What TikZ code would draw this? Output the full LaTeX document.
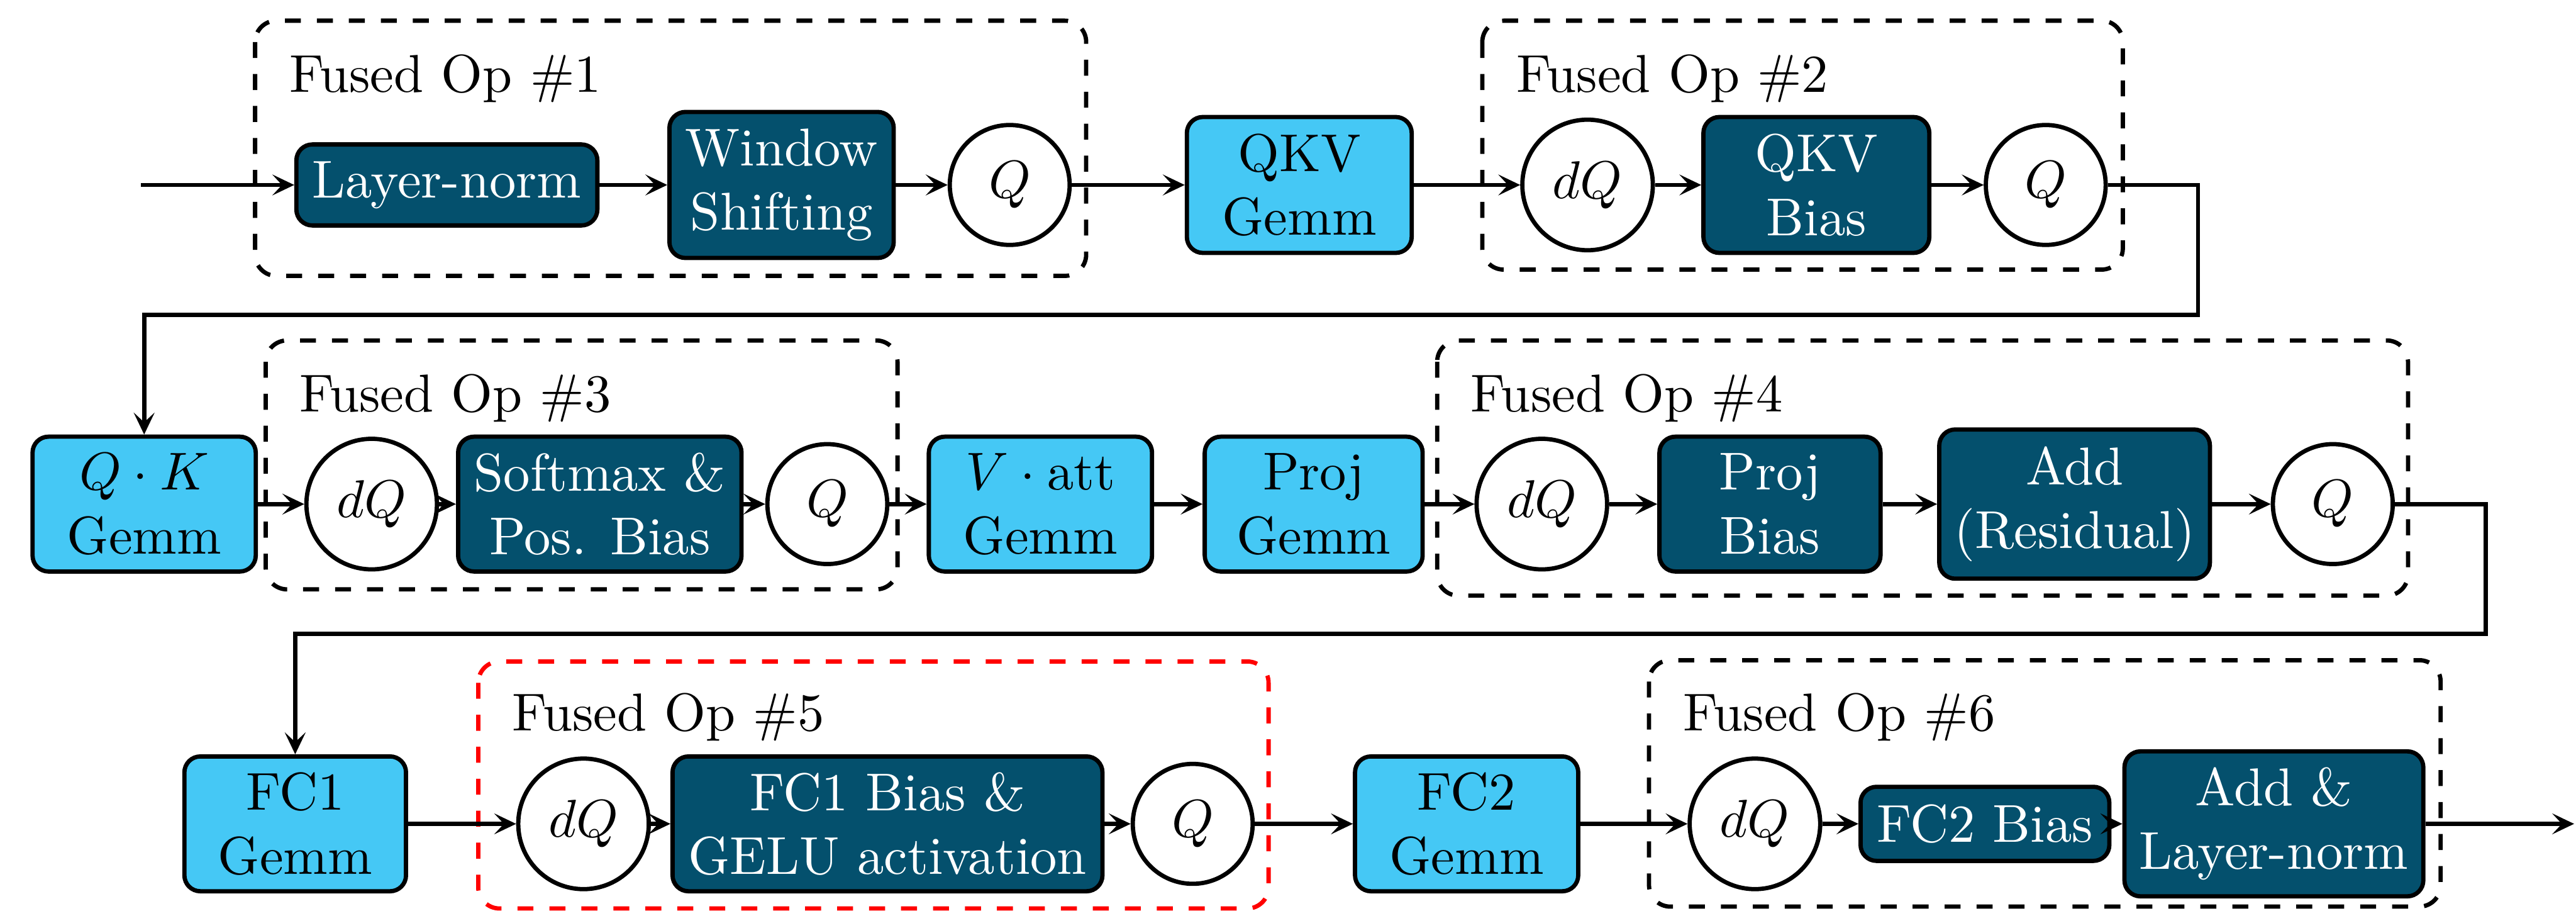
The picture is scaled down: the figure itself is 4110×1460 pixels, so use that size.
\documentclass[tikz,border=0pt]{standalone}
\usetikzlibrary{arrows.meta}
\definecolor{darkfill}{RGB}{4,80,109}
\definecolor{gemmfill}{RGB}{69,200,245}
\begin{document}
\begin{tikzpicture}[x=0.11765pt,y=-0.11765pt,
  op/.style={draw=black, thick, rounded corners=3pt, align=center, inner sep=0pt},
  darkop/.style={op, fill=darkfill, text=white},
  gemmop/.style={op, fill=gemmfill, text=black},
  quant/.style={draw, thick, circle, fill=white, inner sep=0pt},
  qq/.style={quant, minimum size=22.5pt},
  dqq/.style={quant, minimum size=24.5pt},
  flow/.style={thick, -{Stealth[length=4.1pt,width=3.9pt,inset=1.8pt]}},
  fused/.style={thick, dashed, rounded corners=4pt},
  flabel/.style={anchor=base west, inner sep=0pt}]
\useasboundingbox (0,0) rectangle (4110,1460);

% fused op boxes
\draw[fused] (407,33) rectangle (1733,440);
\draw[fused] (2365,33) rectangle (3387,430);
\draw[fused] (424,543) rectangle (1432,940);
\draw[fused] (2293,543) rectangle (3842,950);
\draw[fused, red] (763,1055) rectangle (2024,1449);
\draw[fused] (2631,1053) rectangle (3894,1446);

\node[flabel] (l1) at (460,147) {Fused Op \#1};
\node[flabel] (l2) at (2418,147) {Fused Op \#2};
\node[flabel] (l3) at (476,657) {Fused Op \#3};
\node[flabel] (l4) at (2345,657) {Fused Op \#4};
\node[flabel] (l5) at (816,1165) {Fused Op \#5};
\node[flabel] (l6) at (2684,1165) {Fused Op \#6};

% row 1
\coordinate (in) at (225,295);
\node[darkop, minimum width=56.5pt, minimum height=15.2pt] (ln1) at (713,295) {Layer-norm};
\node[darkop, minimum width=42.1pt, minimum height=27.4pt] (ws) at (1247,295) {Window\\Shifting};
\node[qq] (q1) at (1611,295) {$Q$};
\node[gemmop, minimum width=42.2pt, minimum height=25.5pt] (qkvg) at (2073,295) {QKV\\Gemm};
\node[dqq] (dq2) at (2533,295) {$dQ$};
\node[darkop, minimum width=42.4pt, minimum height=25.5pt] (qkvb) at (2898,295) {QKV\\Bias};
\node[qq] (q2) at (3264,295) {$Q$};

% row 2
\node[gemmop, minimum width=41.9pt, minimum height=25.3pt] (qk) at (230,804) {$Q\cdot K$\\Gemm};
\node[dqq] (dq3) at (593,804) {$dQ$};
\node[darkop, minimum width=53.2pt, minimum height=25.3pt] (sm) at (957,804) {Softmax \&\\Pos. Bias};
\node[qq] (q3) at (1320,804) {$Q$};
\node[gemmop, minimum width=41.9pt, minimum height=25.3pt] (va) at (1660,804) {$V\cdot\mathrm{att}$\\Gemm};
\node[gemmop, minimum width=40.9pt, minimum height=25.3pt] (pg) at (2096,804) {Proj\\Gemm};
\node[dqq] (dq4) at (2460,804) {$dQ$};
\node[darkop, minimum width=41.5pt, minimum height=25.3pt] (pb) at (2824,804) {Proj\\Bias};
\node[darkop, minimum width=50.8pt, minimum height=28.0pt] (ar) at (3310,804) {Add\\(Residual)};
\node[qq] (q4) at (3722,804) {$Q$};

% row 3
\node[gemmop, minimum width=41.6pt, minimum height=25.3pt] (fc1) at (471,1314) {FC1\\Gemm};
\node[dqq] (dq5) at (931,1314) {$dQ$};
\node[darkop, minimum width=80.7pt, minimum height=25.3pt] (gelu) at (1416,1314) {FC1 Bias \&\\GELU activation};
\node[qq] (q5) at (1903,1314) {$Q$};
\node[gemmop, minimum width=41.9pt, minimum height=25.3pt] (fc2) at (2340,1314) {FC2\\Gemm};
\node[dqq] (dq6) at (2800,1314) {$dQ$};
\node[darkop, minimum width=46.7pt, minimum height=13.9pt] (fb2) at (3167,1314) {FC2 Bias};
\node[darkop, minimum width=56.1pt, minimum height=27.2pt] (aln) at (3628,1314) {Add \&\\Layer-norm};
\coordinate (out) at (4107,1314);

% connectors row 1
\draw[flow] (in) -- (ln1);
\draw[flow] (ln1) -- (ws);
\draw[flow] (ws) -- (q1);
\draw[flow] (q1) -- (qkvg);
\draw[flow] (qkvg) -- (dq2);
\draw[flow] (dq2) -- (qkvb);
\draw[flow] (qkvb) -- (q2);
\coordinate (t1) at (3507,502);
\draw[flow] (q2.east) -- (q2.east -| t1) -- (t1) -| (qk.north);

% connectors row 2
\draw[flow] (qk) -- (dq3);
\draw[flow] (dq3) -- (sm);
\draw[flow] (sm) -- (q3);
\draw[flow] (q3) -- (va);
\draw[flow] (va) -- (pg);
\draw[flow] (pg) -- (dq4);
\draw[flow] (dq4) -- (pb);
\draw[flow] (pb) -- (ar);
\draw[flow] (ar) -- (q4);
\coordinate (t2) at (3966,1011);
\draw[flow] (q4.east) -- (q4.east -| t2) -- (t2) -| (fc1.north);

% connectors row 3
\draw[flow] (fc1) -- (dq5);
\draw[flow] (dq5) -- (gelu);
\draw[flow] (gelu) -- (q5);
\draw[flow] (q5) -- (fc2);
\draw[flow] (fc2) -- (dq6);
\draw[flow] (dq6) -- (fb2);
\draw[flow] (fb2) -- (aln);
\draw[flow] (aln) -- (out);
\end{tikzpicture}
\end{document}
